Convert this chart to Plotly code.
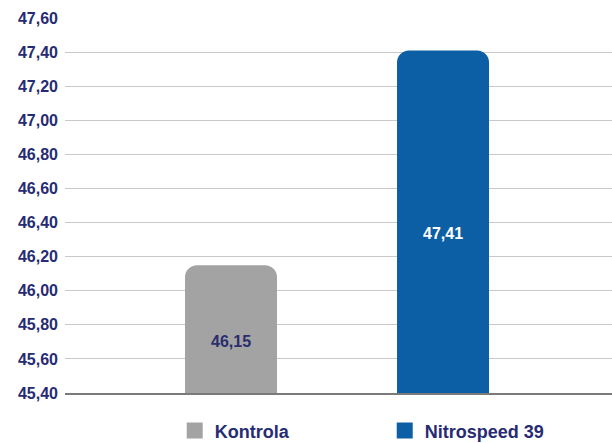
import plotly.graph_objects as go

categories = ["Kontrola", "Nitrospeed 39"]
values = [46.15, 47.41]
bar_colors = ["#a3a3a3", "#0c5fa4"]
text_colors = ["#2a2d6e", "#ffffff"]
tick_vals = [45.4, 45.6, 45.8, 46.0, 46.2, 46.4, 46.6, 46.8, 47.0, 47.2, 47.4, 47.6]
y_min, y_max = 45.4, 47.6

FONT = "Liberation Sans, Arial, sans-serif"
NAVY = "#262b73"

fig = go.Figure()
for i, (cat, val) in enumerate(zip(categories, values)):
    fig.add_trace(go.Bar(
        x=[cat], y=[val], name=cat,
        marker=dict(color=bar_colors[i], line=dict(width=0)),
        width=0.434, showlegend=False,
        hoverinfo="skip",
    ))
    fig.add_annotation(
        x=cat, y=(y_min + val) / 2, yshift=-12,
        text="<b>" + f"{val:.2f}".replace(".", ",") + "</b>",
        showarrow=False,
        font=dict(family=FONT, size=16, color=text_colors[i]),
    )

# legend entries with larger square swatches
for i, cat in enumerate(categories):
    fig.add_trace(go.Scatter(
        x=[None], y=[None], mode="markers", name=cat,
        marker=dict(symbol="square", size=16, color=bar_colors[i]),
        hoverinfo="skip",
    ))

fig.update_layout(
    width=612, height=443,
    margin=dict(l=65, r=0, t=18, b=50, autoexpand=False),
    paper_bgcolor="white", plot_bgcolor="white",
    separators=",.",
    barmode="overlay",
    barcornerradius=12,
    showlegend=True,
    legend=dict(orientation="h", x=0.2006, xanchor="left", y=-0.101, yanchor="middle",
                entrywidth=165, traceorder="normal", itemsizing="trace",
                font=dict(family=FONT, size=18, color=NAVY, weight="bold")),
    xaxis=dict(type="category", categoryorder="array", categoryarray=categories,
               range=[-0.783, 1.797], showticklabels=False,
               showgrid=False, showline=True, linecolor="#7a7a7a", linewidth=2,
               ticks="", zeroline=False),
    yaxis=dict(range=[y_min, y_max], tickvals=tick_vals, tickformat=".2f",
               showgrid=True, gridcolor="#c9c9c9", gridwidth=1, zeroline=False,
               showline=False, ticks="", ticklabelstandoff=6,
               tickfont=dict(family=FONT, size=16, color=NAVY, weight="bold")),
)

post = "document.body.style.margin='0';"
fig.write_html("out.html", post_script=post, config={"displayModeBar": False})
